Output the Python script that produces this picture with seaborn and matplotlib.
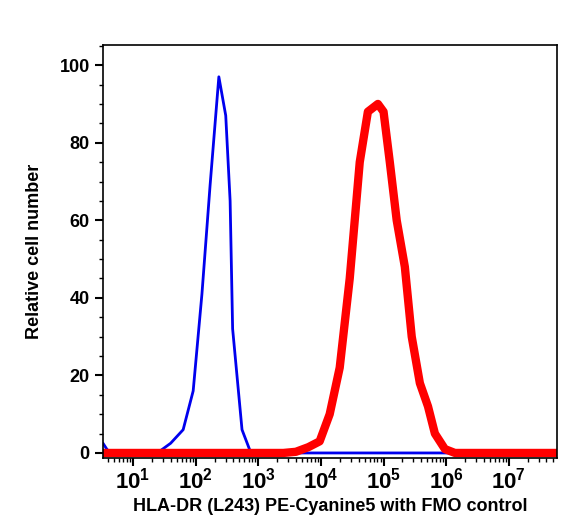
import numpy as np
import matplotlib
matplotlib.use("Agg")
import matplotlib.pyplot as plt
import seaborn as sns
from matplotlib.ticker import LogLocator, MultipleLocator, NullFormatter

# FMO control (blue): (log10 intensity, % of max)
fmo_log = [0.52, 0.58, 0.62, 1.0, 1.27, 1.43, 1.6, 1.8, 1.96, 2.1, 2.23, 2.37, 2.48,
           2.55, 2.59, 2.74, 2.87, 3.0, 3.34, 3.36, 7.77]
fmo_val = [2.5, 1.0, 0.3, 0.3, 0.3, 0.5, 2.5, 6, 16, 41, 69, 97, 87,
           65, 32, 6, 0.5, 0.3, 0.3, 0, 0]
# HLA-DR stained (red)
hla_log = [0.52, 3.4, 3.6, 3.8, 3.98, 4.14, 4.3, 4.46, 4.62, 4.75, 4.91, 5.0, 5.1, 5.21,
           5.34, 5.45, 5.58, 5.71, 5.82, 5.98, 6.14, 7.77]
hla_val = [0, 0, 0.3, 1.5, 3, 10, 22, 45, 75, 88, 90, 88, 75, 60,
           48, 30, 18, 12, 5, 1, 0, 0]

sns.set_theme(style="ticks")
plt.rcParams["font.family"] = ["Liberation Sans", "DejaVu Sans"]
plt.rcParams["font.weight"] = "bold"

fig = plt.figure(figsize=(5.77, 5.30), dpi=100)
ax = fig.add_axes([103 / 577, 1 - 458 / 530, 454 / 577, 413 / 530])

sns.lineplot(x=10 ** np.array(fmo_log), y=fmo_val, ax=ax, color="#0000ee", linewidth=2, sort=False)
sns.lineplot(x=10 ** np.array(hla_log), y=hla_val, ax=ax, color="#ff0000", linewidth=6, sort=False)

ax.set_xscale("log")
ax.set_xlim(10 ** 0.52, 10 ** 7.77)
ax.set_ylim(-1.3, 105.2)
ax.set_xticks([10.0 ** k for k in range(1, 8)])
ax.xaxis.set_minor_locator(LogLocator(base=10, subs=np.arange(2, 10), numticks=20))
ax.xaxis.set_minor_formatter(NullFormatter())
ax.yaxis.set_major_locator(MultipleLocator(20))
ax.yaxis.set_minor_locator(MultipleLocator(5))
ax.tick_params(which="major", length=6, width=1.5, direction="out", colors="black")
ax.tick_params(axis="x", which="major", labelsize=16, pad=1)
ax.tick_params(axis="y", which="major", labelsize=13)
ax.tick_params(which="minor", length=3, width=1, direction="out", colors="black")
for s in ax.spines.values():
    s.set_linewidth(1.2)
    s.set_color("black")
    s.set_visible(True)
for lab in ax.get_xticklabels() + ax.get_yticklabels():
    lab.set_fontweight("bold")
ax.set_xlabel("HLA-DR (L243) PE-Cyanine5 with FMO control", fontsize=13, fontweight="bold",
              color="black", labelpad=3)
ax.set_ylabel("Relative cell number", fontsize=13, fontweight="bold", color="black", labelpad=12)

fig.savefig("out.png", dpi=100)
